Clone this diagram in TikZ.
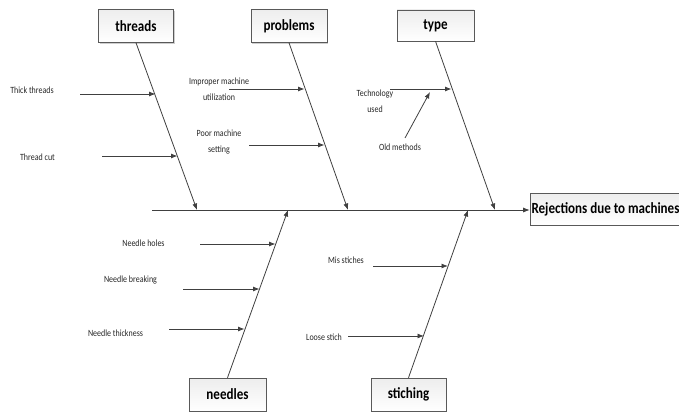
\documentclass[tikz,border=0pt]{standalone}
\usepackage{fontspec}
\setmainfont{Carlito}
\newfontfamily\narrowfont[FakeStretch=0.84]{Carlito}
\usetikzlibrary{arrows.meta,shadows}
\begin{document}
\begin{tikzpicture}[x=1pt,y=-1pt,
  cat/.style={draw=black!65, line width=0.6pt, top color=gray!14, bottom color=white,
    drop shadow={shadow xshift=1.3pt,shadow yshift=-1.3pt,fill=gray!55,opacity=0.7},
    font=\narrowfont\bfseries\fontsize{15.5}{17}\selectfont, inner sep=0pt, minimum height=33pt},
  bone/.style={draw=black!75, line width=0.8pt, -{Latex[length=6.5pt,width=5pt]}},
  lbl/.style={font=\narrowfont\fontsize{9.5}{16}\selectfont, align=center, text=black!85, inner sep=0pt}]
\useasboundingbox (0,0) rectangle (679,412);

% effect box and spine
\node[cat, minimum width=151pt, minimum height=32pt] (eff) at (605.5,209) {Rejections due to machines};
\coordinate (sp0) at (152,210);
\draw[bone] (sp0) -- (eff.west |- sp0);

% category boxes
\node[cat, minimum width=75pt] (thr) at (136,26) {threads};
\node[cat, minimum width=76pt] (prb) at (289,26) {problems};
\node[cat, minimum width=77pt, minimum height=31pt] (typ) at (435.5,25.5) {type};
\node[cat, minimum width=77pt] (ndl) at (227.5,394.5) {needles};
\node[cat, minimum width=75pt] (sti) at (408.5,394.5) {stiching};

% bone end points on spine
\coordinate (thrE) at (197,210);
\coordinate (prbE) at (348,210);
\coordinate (typE) at (495,210);
\coordinate (ndlE) at (288,210);
\coordinate (stiE) at (468,210);

\draw[bone] (thr.south) -- (thrE);
\draw[bone] (prb.south) -- (prbE);
\draw[bone] (typ.south) -- (typE);
\draw[bone] (ndl.north) -- (ndlE);
\draw[bone] (sti.north) -- (stiE);

% labels
\node[lbl] (l1) at (32,90) {Thick threads};
\node[lbl] (l2) at (37.5,157) {Thread cut};
\node[lbl] (l3) at (219,89) {Improper machine\\utilization};
\node[lbl] (l4) at (219,142.5) {Poor machine\\setting};
\node[lbl] (l5) at (375,101.5) {Technology\\used};
\node[lbl] (l6) at (400,147) {Old methods};
\node[lbl] (l7) at (143.5,243) {Needle holes};
\node[lbl] (l8) at (130.5,280) {Needle breaking};
\node[lbl] (l9) at (115.5,333) {Needle thickness};
\node[lbl] (l10) at (346,260) {Mis stiches};
\node[lbl] (l11) at (324,337) {Loose stich};

% sub-cause arrows
\coordinate (a1) at (80,94);   \coordinate (b1) at (155.5,94);
\coordinate (a2) at (102,156); \coordinate (b2) at (177.5,156);
\coordinate (a3) at (229,89);  \coordinate (b3) at (304.5,89);
\coordinate (a4) at (249,145); \coordinate (b4) at (324.5,145);
\coordinate (a5) at (390,89);  \coordinate (b5) at (451.5,89);
\coordinate (a6) at (405,138); \coordinate (b6) at (430,92);
\coordinate (a7) at (200,244); \coordinate (b7) at (275.5,244);
\coordinate (a8) at (183,289); \coordinate (b8) at (259.5,289);
\coordinate (a9) at (169,329); \coordinate (b9) at (244.5,329);
\coordinate (a10) at (373,266); \coordinate (b10) at (448,266);
\coordinate (a11) at (348,336); \coordinate (b11) at (424,336);
\foreach \i in {1,...,11}{\draw[bone] (a\i) -- (b\i);}
\end{tikzpicture}
\end{document}
